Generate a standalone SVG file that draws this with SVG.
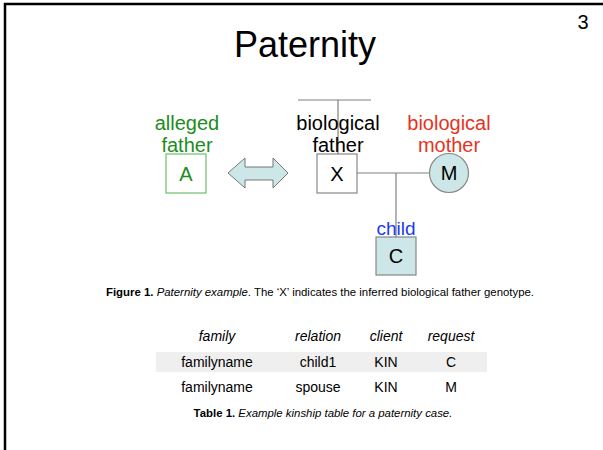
<svg xmlns="http://www.w3.org/2000/svg" width="603" height="450" viewBox="0 0 603 450">
<style>
text{font-family:"Liberation Sans",Arial,sans-serif}
.lbl{font-size:20px;text-anchor:middle}
.node{font-size:20px;text-anchor:middle}
.ln{stroke:#808080;stroke-width:1.2;fill:none}
.fillb{fill:#cde6e8;stroke:#888;stroke-width:1.2}
.th{font-size:14px;font-style:italic;text-anchor:middle}
.td{font-size:14px;text-anchor:middle}
.cap{font-size:11.4px}
</style>
<rect width="603" height="450" fill="#fff"/>
<path d="M5,450 V4 H603" fill="none" stroke="#000" stroke-width="2.5"/>
<text x="583" y="29" font-size="20" text-anchor="middle">3</text>
<text x="305" y="57" font-size="36" text-anchor="middle">Paternity</text>

<g id="connectors">
<line class="ln" x1="298" y1="100" x2="371" y2="100"/>
<line class="ln" x1="338" y1="100" x2="338" y2="154"/>
<line class="ln" x1="357" y1="173" x2="430" y2="173"/>
<line class="ln" x1="396" y1="173" x2="396" y2="237"/>
<path id="double-arrow" d="M228,173 L245,158 L245,167 L273,167 L273,158 L288,173 L273,188 L273,180 L245,180 L245,188 Z" fill="#cde6e8" stroke="#777" stroke-width="1"/>
</g>

<g id="node-A">
<text class="lbl" x="187" y="130" fill="#1e8c1e">alleged</text>
<text class="lbl" x="187" y="152" fill="#1e8c1e">father</text>
<rect x="166" y="154" width="40" height="39" fill="#fff" stroke="#6cc06c" stroke-width="1.2"/>
<text class="node" x="186" y="181" fill="#1e8c1e">A</text>
</g>

<g id="node-X">
<text class="lbl" x="338" y="130" fill="#000">biological</text>
<text class="lbl" x="338" y="152" fill="#000">father</text>
<rect x="317" y="154" width="40" height="39" fill="#fff" stroke="#888" stroke-width="1.2"/>
<text class="node" x="337" y="181" fill="#000">X</text>
</g>

<g id="node-M">
<text class="lbl" x="449" y="130" fill="#e8321e">biological</text>
<text class="lbl" x="449" y="152" fill="#e8321e">mother</text>
<circle class="fillb" cx="449" cy="173" r="19.5"/>
<text class="node" x="449" y="180" fill="#000">M</text>
</g>

<g id="node-C">
<text x="396" y="235" font-size="19" text-anchor="middle" fill="#1a3cf0">child</text>
<rect class="fillb" x="376" y="237" width="40" height="38"/>
<text class="node" x="396" y="263" fill="#000">C</text>
</g>

<text class="cap" x="106" y="296"><tspan font-weight="bold">Figure 1.</tspan> <tspan font-style="italic">Paternity example</tspan>. The ‘X’ indicates the inferred biological father genotype.</text>

<g id="table">
<rect x="156" y="352" width="331" height="20" fill="#efefef"/>
<text class="th" x="217" y="341">family</text>
<text class="th" x="318" y="341">relation</text>
<text class="th" x="386" y="341">client</text>
<text class="th" x="451" y="341">request</text>
<text class="td" x="217" y="367">familyname</text>
<text class="td" x="318" y="367">child1</text>
<text class="td" x="386" y="367">KIN</text>
<text class="td" x="451" y="367">C</text>
<text class="td" x="217" y="392">familyname</text>
<text class="td" x="318" y="392">spouse</text>
<text class="td" x="386" y="392">KIN</text>
<text class="td" x="451" y="392">M</text>
<text class="cap" x="323" y="417" text-anchor="middle"><tspan font-weight="bold">Table 1.</tspan> <tspan font-style="italic">Example kinship table for a paternity case.</tspan></text>
</g>
</svg>
